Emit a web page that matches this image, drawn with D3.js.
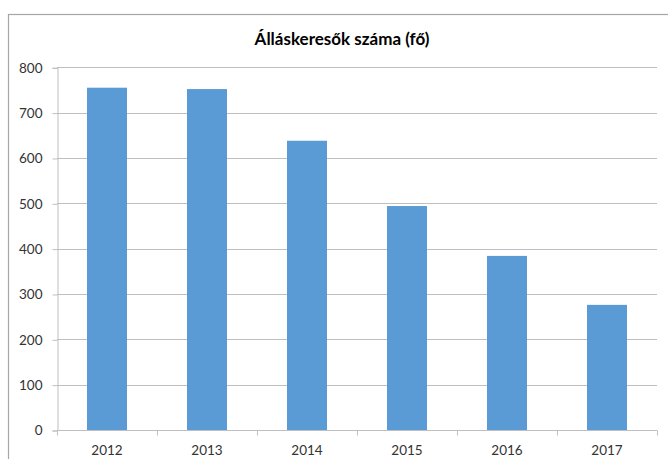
<!DOCTYPE html>
<html><head><meta charset="utf-8">
<script src="https://cdn.jsdelivr.net/npm/d3@7"></script>
<style>html,body{margin:0;padding:0;background:#fff;}svg{display:block;}</style>
</head><body>
<script>
const categories = ["2012","2013","2014","2015","2016","2017"];
const values = [755, 752, 638, 494, 384, 276];
const yTicks = [0,100,200,300,400,500,600,700,800];
const title = "Álláskeresők száma (fő)";

(function () {
const W = 668, H = 459;
const svg = d3.select("body").append("svg").attr("width", W).attr("height", H);
const font = "Lato, 'Open Sans', sans-serif";

// chart border
svg.append("rect").attr("x", 8.5).attr("y", 14.5).attr("width", 700).attr("height", 500)
  .attr("fill", "none").attr("stroke", "#a6a6a6").attr("stroke-width", 1.2);

const pLeft = 57, pRight = 657, pTop = 67.3, pBottom = 430;
const x = d3.scaleBand().domain(categories).range([pLeft, pRight]).paddingInner(0.6).paddingOuter(0.3);
const y = d3.scaleLinear().domain([0, 800]).range([pBottom, pTop]);

// gridlines
svg.append("g").selectAll("line").data(yTicks.filter(d => d > 0)).join("line")
  .attr("x1", pLeft).attr("x2", pRight)
  .attr("y1", d => Math.round(y(d)) + 0.5).attr("y2", d => Math.round(y(d)) + 0.5)
  .attr("stroke", "#bfbfbf").attr("stroke-width", 1);

// bars
svg.append("g").selectAll("rect").data(values).join("rect")
  .attr("x", (d, i) => x(categories[i]))
  .attr("width", x.bandwidth())
  .attr("y", d => y(d))
  .attr("height", d => y(0) - y(d))
  .attr("fill", "#5b9bd5");

// y axis
const yAxis = d3.axisLeft(y).tickValues(yTicks).tickSize(5).tickPadding(10);
const gy = svg.append("g").attr("transform", `translate(${pLeft + 0.5},0.5)`).call(yAxis);
gy.select(".domain").attr("stroke", "#bfbfbf");
gy.selectAll(".tick line").attr("stroke", "#bfbfbf");
gy.selectAll(".tick text").attr("fill", "#333").style("font", `13.5px ${font}`);

// x axis: ticks at band boundaries
const step = x.step();
const boundaries = [pLeft].concat(categories.map((c, i) => pLeft + step * (i + 1)));
const gx = svg.append("g").attr("transform", `translate(0,${Math.round(pBottom) + 0.5})`);
gx.append("line").attr("x1", pLeft).attr("x2", pRight).attr("stroke", "#bfbfbf");
gx.selectAll("line.t").data(boundaries).join("line").attr("class", "t")
  .attr("x1", d => Math.round(d) + 0.5).attr("x2", d => Math.round(d) + 0.5)
  .attr("y1", 0).attr("y2", 5).attr("stroke", "#bfbfbf");
gx.selectAll("text").data(categories).join("text")
  .attr("x", d => x(d) + x.bandwidth() / 2).attr("y", 24)
  .attr("text-anchor", "middle").attr("fill", "#333")
  .style("font", `13.5px ${font}`).text(d => d);

// title
svg.append("text").attr("x", 342).attr("y", 45).attr("text-anchor", "middle")
  .attr("fill", "#000").style("font", `bold 17px ${font}`).text(title);
})();
</script>
</body></html>
